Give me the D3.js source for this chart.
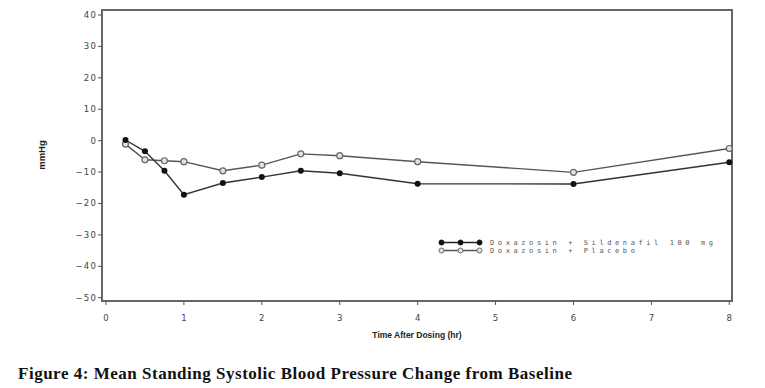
<!DOCTYPE html>
<html>
<head>
<meta charset="utf-8">
<script src="https://d3js.org/d3.v7.min.js"></script>
<style>
body { margin: 0; background: #fff; }
svg { display: block; }
.tick-label { font-family: "DejaVu Sans", sans-serif; font-size: 8.5px; fill: #444; letter-spacing: 1.2px; }
.legend-text { font-family: "DejaVu Sans Mono", monospace; font-size: 7px; fill: #555; letter-spacing: 3.6px; }
</style>
</head>
<body>
<div id="chart"></div>
<script>
// data
var hours = [0.25, 0.5, 0.75, 1, 1.5, 2, 2.5, 3, 4, 6, 8];
var sildenafil = [0.2, -3.4, -9.6, -17.2, -13.5, -11.6, -9.6, -10.4, -13.7, -13.8, -6.9];
var placebo = [-1.1, -6.1, -6.4, -6.7, -9.6, -7.8, -4.2, -4.8, -6.7, -10.1, -2.5];
var xTicks = [0, 1, 2, 3, 4, 5, 6, 7, 8];
var yTicks = [40, 30, 20, 10, 0, -10, -20, -30, -40, -50];
var seriesNames = ["Doxazosin + Sildenafil 100 mg", "Doxazosin + Placebo"];

var width = 765, height = 388;
var frame = {left: 102, right: 732, top: 10, bottom: 301};

var svg = d3.select("#chart").append("svg")
    .attr("width", width)
    .attr("height", height);

var x = d3.scaleLinear().domain([0, 8]).range([106, 729.3]);
var y = d3.scaleLinear().domain([-50, 40]).range([297.7, 15]);

// plot frame
svg.append("rect")
    .attr("x", frame.left)
    .attr("y", frame.top)
    .attr("width", frame.right - frame.left)
    .attr("height", frame.bottom - frame.top)
    .attr("fill", "none")
    .attr("stroke", "#666")
    .attr("stroke-width", 2);

// y axis ticks
var yAxis = svg.append("g");
yAxis.selectAll("line").data(yTicks).enter().append("line")
    .attr("x1", frame.left - 4).attr("x2", frame.left)
    .attr("y1", function(d) { return y(d); })
    .attr("y2", function(d) { return y(d); })
    .attr("stroke", "#555").attr("stroke-width", 1);
yAxis.selectAll("text").data(yTicks).enter().append("text")
    .attr("class", "tick-label")
    .attr("x", frame.left - 5)
    .attr("y", function(d) { return y(d) + 3; })
    .attr("text-anchor", "end")
    .text(function(d) { return d < 0 ? "\u2212" + Math.abs(d) : d; });

// x axis ticks
var xAxis = svg.append("g");
xAxis.selectAll("line").data(xTicks).enter().append("line")
    .attr("x1", function(d) { return x(d); })
    .attr("x2", function(d) { return x(d); })
    .attr("y1", frame.bottom).attr("y2", frame.bottom + 4)
    .attr("stroke", "#555").attr("stroke-width", 1);
xAxis.selectAll("text").data(xTicks).enter().append("text")
    .attr("class", "tick-label")
    .attr("x", function(d) { return x(d); })
    .attr("y", 321)
    .attr("text-anchor", "middle")
    .style("letter-spacing", "0px")
    .text(function(d) { return d; });

// axis titles
svg.append("text")
    .attr("x", (frame.left + frame.right) / 2)
    .attr("y", 338)
    .attr("text-anchor", "middle")
    .style("font-family", "Liberation Sans, Arial, sans-serif")
    .style("font-weight", "bold")
    .style("font-size", "8.5px")
    .style("fill", "#222")
    .text("Time After Dosing (hr)");

svg.append("text")
    .attr("transform", "translate(45,155) rotate(-90)")
    .attr("text-anchor", "middle")
    .style("font-family", "Liberation Sans, Arial, sans-serif")
    .style("font-weight", "bold")
    .style("font-size", "9.5px")
    .style("fill", "#222")
    .text("mmHg");

// lines
var line = d3.line()
    .x(function(d) { return x(d[0]); })
    .y(function(d) { return y(d[1]); });

var placeboPts = d3.zip(hours, placebo);
var sildPts = d3.zip(hours, sildenafil);

svg.append("path").datum(placeboPts)
    .attr("d", line)
    .attr("fill", "none")
    .attr("stroke", "#555")
    .attr("stroke-width", 1.4);

svg.append("path").datum(sildPts)
    .attr("d", line)
    .attr("fill", "none")
    .attr("stroke", "#333")
    .attr("stroke-width", 1.4);

svg.selectAll("circle.placebo").data(placeboPts).enter().append("circle")
    .attr("class", "placebo")
    .attr("cx", function(d) { return x(d[0]); })
    .attr("cy", function(d) { return y(d[1]); })
    .attr("r", 3)
    .attr("fill", "#e2e2e2")
    .attr("stroke", "#666")
    .attr("stroke-width", 1.2);

svg.selectAll("circle.sild").data(sildPts).enter().append("circle")
    .attr("class", "sild")
    .attr("cx", function(d) { return x(d[0]); })
    .attr("cy", function(d) { return y(d[1]); })
    .attr("r", 3)
    .attr("fill", "#111");

// legend
var legendRows = [
    {name: seriesNames[0], y: 242.5, fill: "#111", stroke: "#111", line: "#222"},
    {name: seriesNames[1], y: 250.5, fill: "#e2e2e2", stroke: "#666", line: "#555"}
];
var legendX = [441.5, 460.5, 479.5];

var lg = svg.selectAll("g.legend").data(legendRows).enter().append("g")
    .attr("class", "legend");
lg.append("line")
    .attr("x1", legendX[0]).attr("x2", legendX[2])
    .attr("y1", function(d) { return d.y; })
    .attr("y2", function(d) { return d.y; })
    .attr("stroke", function(d) { return d.line; })
    .attr("stroke-width", 1.4);
legendX.forEach(function(lx) {
    lg.append("circle")
        .attr("cx", lx)
        .attr("cy", function(d) { return d.y; })
        .attr("r", 2.5)
        .attr("fill", function(d) { return d.fill; })
        .attr("stroke", function(d) { return d.stroke; })
        .attr("stroke-width", 1);
});
lg.append("text")
    .attr("class", "legend-text")
    .attr("x", 490)
    .attr("y", function(d) { return d.y + 2.5; })
    .text(function(d) { return d.name; });

// caption
svg.append("text")
    .attr("x", 18)
    .attr("y", 379)
    .attr("textLength", 554)
    .attr("lengthAdjust", "spacing")
    .style("font-family", "Liberation Serif, Times New Roman, serif")
    .style("font-weight", "bold")
    .style("font-size", "17px")
    .style("fill", "#111")
    .text("Figure 4: Mean Standing Systolic Blood Pressure Change from Baseline");
</script>
</body>
</html>
